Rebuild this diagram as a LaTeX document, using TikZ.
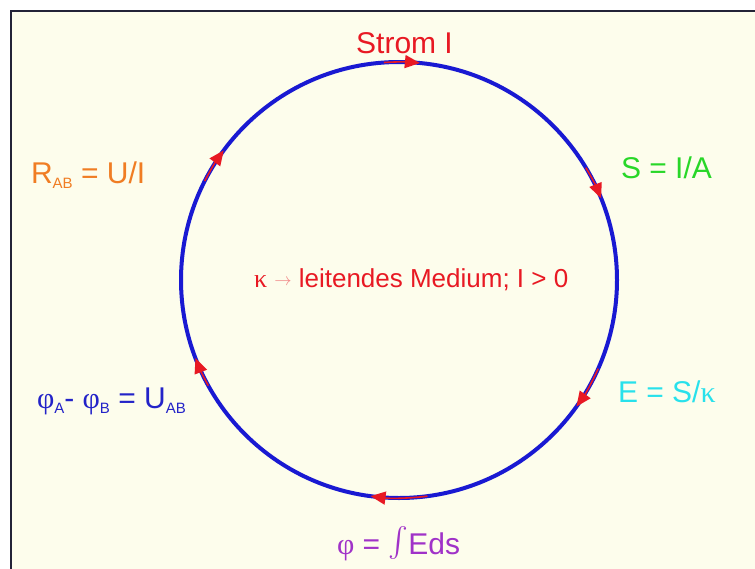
\documentclass[tikz,border=0pt]{standalone}
\usepackage{fontspec}
\usepackage{graphicx}
\setmainfont{Liberation Sans}
\newfontfamily\grk{Liberation Serif}
\usetikzlibrary{arrows.meta}
\definecolor{bgc}{RGB}{253,253,236}
\definecolor{framec}{RGB}{35,35,55}
\definecolor{ringc}{RGB}{25,25,210}
\definecolor{redc}{RGB}{232,25,35}
\definecolor{orangec}{RGB}{240,125,35}
\definecolor{greenc}{RGB}{40,215,40}
\definecolor{cyanc}{RGB}{40,225,235}
\definecolor{purplec}{RGB}{160,50,200}
\definecolor{bluec}{RGB}{35,35,200}
\definecolor{pinkc}{RGB}{240,130,130}
\tikzset{
  lbl/.style={inner sep=0pt, outer sep=0pt, anchor=base west, font=\fontsize{30}{32}\selectfont},
  flow/.style={draw=redc, line width=1.6pt, -{Triangle[length=15pt,width=13pt]}},
}
\newcommand{\sbx}[1]{\raisebox{-5pt}{\fontsize{15}{15}\selectfont #1}}
\begin{document}
\begin{tikzpicture}[x=1pt,y=-1pt]
\useasboundingbox (0,0) rectangle (755,568);
\fill[white] (0,0) rectangle (755,568);
\fill[bgc] (11,11) rectangle (760,575);
\draw[framec, line width=2.5pt] (11,575) -- (11,11) -- (760,11);
% ring
\node[circle, draw=ringc, line width=4pt, minimum size=436pt, inner sep=0pt] (ring) at (399,280) {};
% flow arrows (clockwise on the page; y axis points down)
\draw[flow] (ring.center) ++(-94:218) arc[start angle=-94, end angle=-84.5, radius=218];
\draw[flow] (ring.center) ++(-31:218) arc[start angle=-31, end angle=-22, radius=218];
\draw[flow] (ring.center) ++(24:218) arc[start angle=24, end angle=35.5, radius=218];
\draw[flow] (ring.center) ++(82.5:218) arc[start angle=82.5, end angle=97.5, radius=218];
\draw[flow] (ring.center) ++(151:218) arc[start angle=151, end angle=159, radius=218];
\draw[flow] (ring.center) ++(207:218) arc[start angle=207, end angle=216.5, radius=218];
% labels
\node[lbl, anchor=base, text=redc] (strom) at (404.5,53) {Strom I};
\node[lbl, text=greenc] (dens) at (621,178) {S = I/A};
\node[lbl, text=cyanc] (field) at (618,402) {E = S/{\grk κ}};
\node[lbl, text=purplec] (pot) at (337,554) {{\grk φ} = \raisebox{-7pt}{\resizebox{!}{35pt}{$\int$}}Eds};
\node[lbl, text=bluec] (volt) at (37,408) {{\grk φ}\sbx{A}- {\grk φ}\sbx{B} = U\sbx{AB}};
\node[lbl, text=orangec] (res) at (31,183) {R\sbx{AB} = U/I};
\node[lbl, text=redc, font=\fontsize{26}{28}\selectfont] (mid) at (254,287)
  {{\grk κ} \raisebox{1.5pt}{\textcolor{pinkc}{\fontsize{16}{16}\selectfont$\rightarrow$}} leitendes Medium; I > 0};
\end{tikzpicture}
\end{document}
